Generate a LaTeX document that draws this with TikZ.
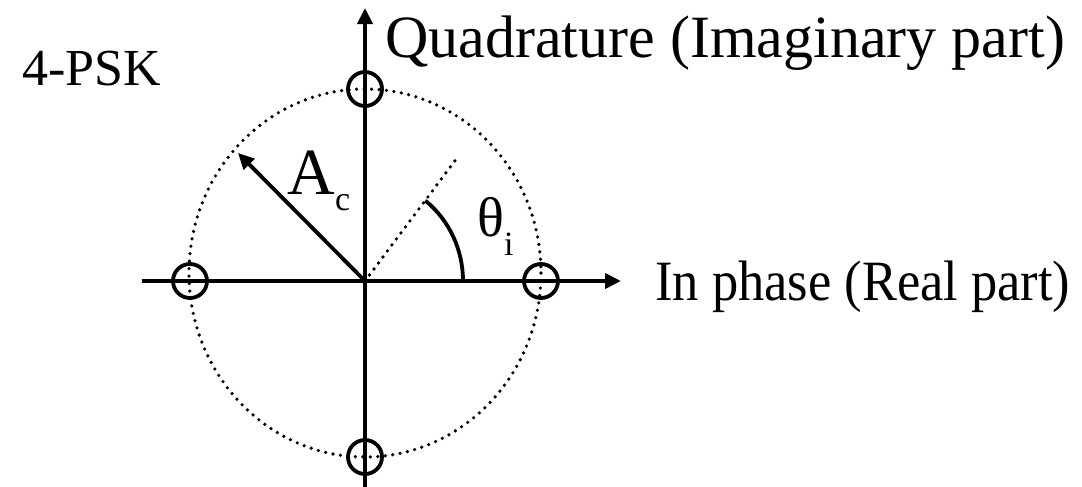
\documentclass[tikz,border=0pt]{standalone}
\usepackage{fontspec}
\setmainfont{Liberation Serif}
\usetikzlibrary{arrows.meta}
\begin{document}
\begin{tikzpicture}[x=0.5pt,y=-0.5pt,
  axis/.style={line width=1.9pt,-{Triangle[length=8pt,width=7.5pt]}},
  pt/.style={draw,circle,line width=1.9pt,minimum size=17pt,inner sep=0pt},
  dots/.style={line width=1.8pt,line cap=round,dash pattern=on 0pt off 3.75pt},
  lbl/.style={inner sep=0pt,font=\fontsize{30pt}{33pt}\selectfont}]
\useasboundingbox (0,0) rectangle (1082,487);
\coordinate (O) at (365,281);
\coordinate (xs) at (142,281);
\coordinate (xe) at (621,281);
\coordinate (ys) at (365,487);
\coordinate (ye) at (365,8);
\coordinate (C) at (365,273);
\draw[dots] (C) ellipse [x radius=176, y radius=184];
\draw[axis] (xs) -- (xe);
\draw[axis] (ys) -- (ye);
\node[pt] (p1) at (541,281) {};
\node[pt] (p2) at (365,89) {};
\node[pt] (p3) at (190,281) {};
\node[pt] (p4) at (365,457) {};
\coordinate (Ac) at (238,153);
\draw[axis] (O) -- (Ac);
\coordinate (D) at (457,158);
\draw[dots] (O) -- (D);
\draw[line width=1.9pt] (463,281) arc[start angle=0,end angle=-52,x radius=98,y radius=102];
\node[lbl,anchor=base west] (q) at (385,57) {Quadrature (Imaginary part)};
\node[lbl,anchor=base west] (i) at (655,300) {\scalebox{0.92}[1]{\fontsize{28.5pt}{31pt}\selectfont In phase (Real part)}};
\node[lbl,anchor=base west,font=\fontsize{26pt}{29pt}\selectfont] (t) at (22,85) {4-PSK};
\node[lbl,anchor=base west,font=\fontsize{33pt}{36pt}\selectfont] (a) at (287,194) {A\raisebox{-0.25em}{\fontsize{17pt}{19pt}\selectfont c}};
\node[lbl,anchor=base west,font=\fontsize{28pt}{31pt}\selectfont] (th) at (477,236) {θ\raisebox{-0.35em}{\fontsize{17pt}{19pt}\selectfont i}};
\end{tikzpicture}
\end{document}
